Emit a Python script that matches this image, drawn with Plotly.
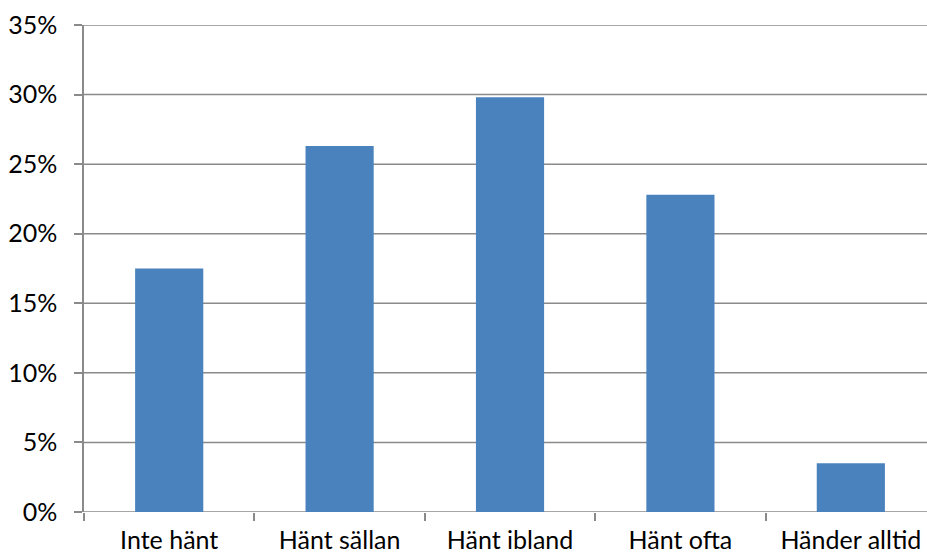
import plotly.graph_objects as go

# Response categories and share of respondents
categories = ["Inte hänt", "Hänt sällan", "Hänt ibland", "Hänt ofta", "Händer alltid"]
shares = [0.175, 0.263, 0.298, 0.228, 0.035]
y_ticks = [0.0, 0.05, 0.10, 0.15, 0.20, 0.25, 0.30, 0.35]

bar_color = "#4a82bd"
grid_color = "#8a8a8a"
font_family = "Lato, 'Open Sans', sans-serif"

fig = go.Figure(
    go.Bar(
        x=categories,
        y=shares,
        width=0.4,
        marker=dict(color=bar_color, line=dict(width=0)),
    )
)

# Horizontal gridlines spanning the full plot width, behind the bars
for v in y_ticks:
    fig.add_shape(
        type="line",
        xref="paper", x0=0, x1=1,
        yref="y", y0=v, y1=v,
        line=dict(color=grid_color, width=1.5),
        layer="below",
    )

fig.update_layout(
    template="none",
    width=927,
    height=557,
    margin=dict(l=84, r=0, t=25, b=45, autoexpand=False),
    paper_bgcolor="white",
    plot_bgcolor="white",
    showlegend=False,
    font=dict(family=font_family, size=25, color="#000000"),
)

fig.update_xaxes(
    type="category",
    range=[-0.5, 4.447],
    automargin=False,
    tickson="boundaries",
    ticks="outside",
    ticklen=8,
    tickwidth=1.5,
    tickcolor=grid_color,
    showgrid=False,
    showline=False,
    zeroline=False,
    ticklabelstandoff=11,
    tickfont=dict(size=25),
)

fig.update_yaxes(
    range=[0, 0.35],
    tickvals=y_ticks,
    tickformat=".0%",
    automargin=False,
    ticks="outside",
    ticklen=8,
    tickwidth=1.5,
    tickcolor=grid_color,
    showgrid=False,
    showline=True,
    linecolor=grid_color,
    linewidth=1.5,
    zeroline=False,
    ticklabelstandoff=12,
    tickfont=dict(size=25),
)

fig.write_html("out.html")
